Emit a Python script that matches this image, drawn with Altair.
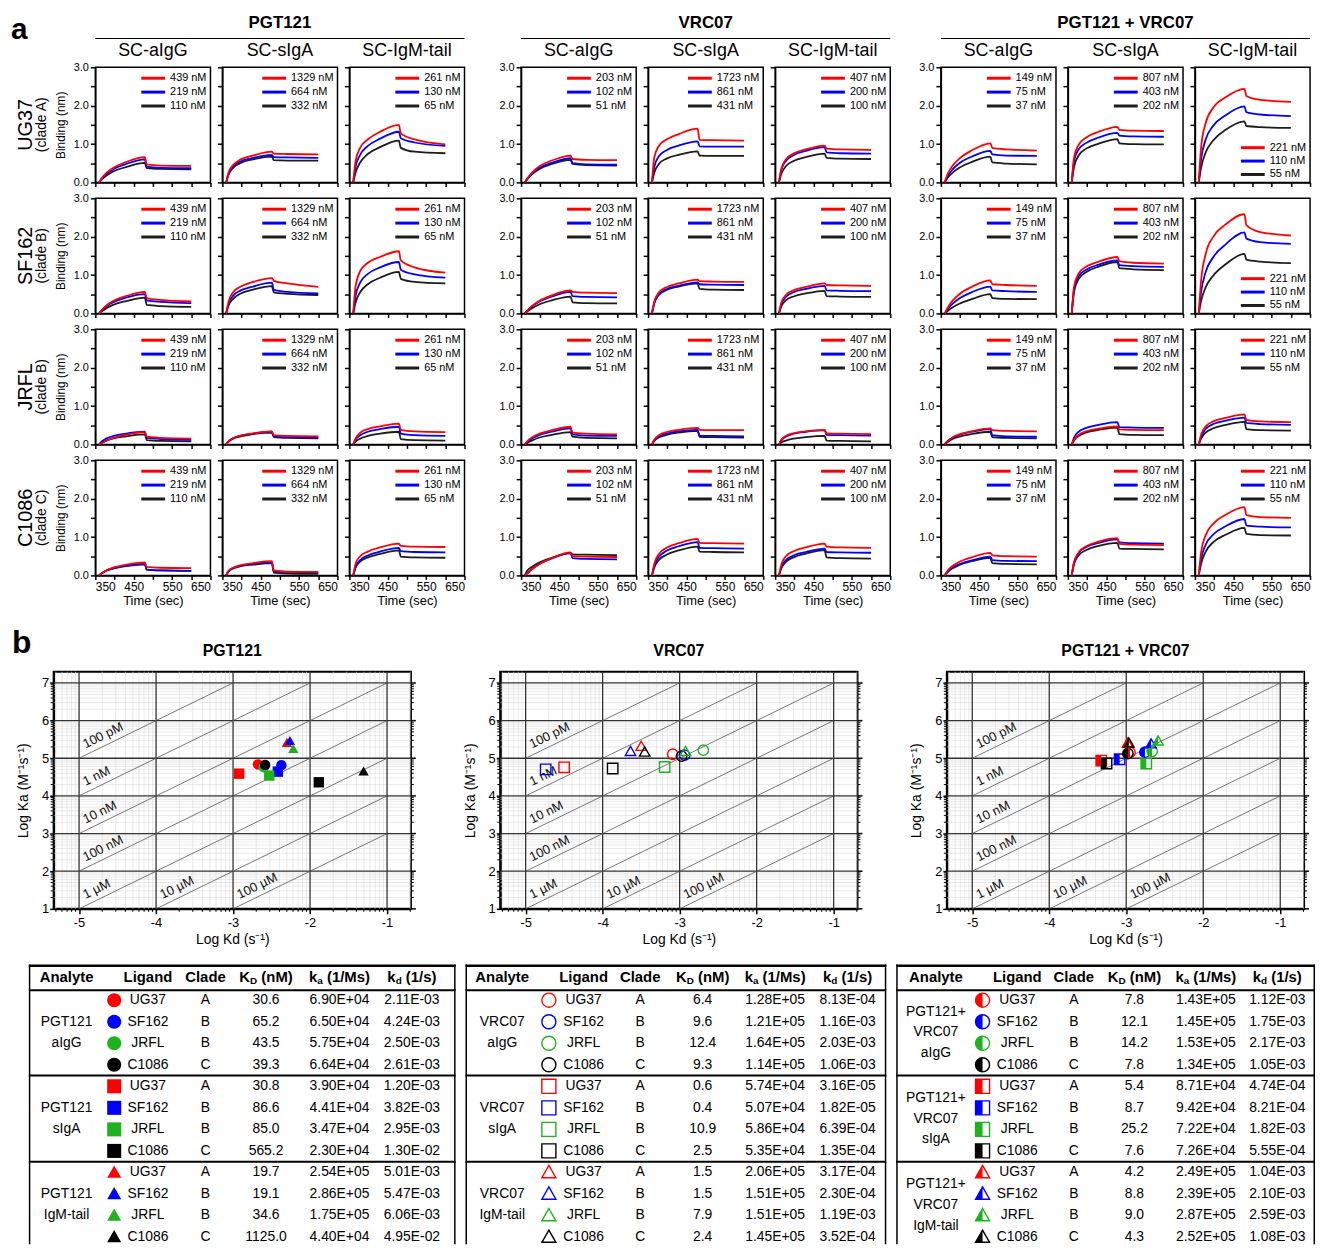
import math
import altair as alt
import pandas as pd

FONT = "Liberation Sans, Arial, Helvetica, sans-serif"
NARROW = "Liberation Sans Narrow, Arial Narrow, Liberation Sans, Arial, sans-serif"

# ------------------------------------------------------------------ panel a
GROUPS = ["PGT121", "VRC07", "PGT121 + VRC07"]
FORMATS = ["SC-aIgG", "SC-sIgA", "SC-IgM-tail"]
ANTIGENS = ["UG37", "SF162", "JRFL", "C1086"]
CLADE_TEXT = ["(clade A)", "(clade B)", "(clade B)", "(clade C)"]
SERIES = ["high", "mid", "low"]
TIME_SEC = [360, 366, 378, 398, 430, 479, 484, 520, 600]

CONC_PGT121 = [["439 nM", "219 nM", "110 nM"], ["1329 nM", "664 nM", "332 nM"], ["261 nM", "130 nM", "65 nM"]]
CONC_VRC07 = [["203 nM", "102 nM", "51 nM"], ["1723 nM", "861 nM", "431 nM"], ["407 nM", "200 nM", "100 nM"]]
CONC_COMBO = [["149 nM", "75 nM", "37 nM"], ["807 nM", "403 nM", "202 nM"], ["221 nM", "110 nM", "55 nM"]]

# binding (nm) read at TIME_SEC ; [antigen][format] -> [high conc, mid conc, low conc]
BIND_PGT121 = [
    [[[0, .10, .24, .39, .53, .66, .47, .44, .43], [0, .09, .21, .35, .48, .60, .41, .38, .37], [0, .07, .17, .29, .40, .51, .37, .35, .34]],
     [[0, .25, .45, .60, .70, .80, .75, .74, .73], [0, .22, .41, .55, .64, .72, .66, .65, .64], [0, .20, .38, .51, .60, .67, .58, .57, .57]],
     [[0, .55, .90, 1.12, 1.32, 1.50, 1.28, 1.12, .99], [0, .40, .72, .95, 1.14, 1.32, 1.15, 1.04, .95], [0, .25, .52, .74, .92, 1.09, .90, .80, .76]]],
    [[[0, .08, .20, .33, .45, .56, .40, .35, .31], [0, .07, .18, .30, .41, .50, .34, .30, .27], [0, .05, .13, .23, .32, .41, .22, .19, .17]],
     [[0, .30, .55, .70, .82, .92, .85, .78, .69], [0, .25, .46, .60, .70, .80, .62, .56, .52], [0, .20, .38, .52, .62, .71, .55, .51, .48]],
     [[0, .70, 1.10, 1.32, 1.47, 1.62, 1.38, 1.20, 1.06], [0, .45, .80, 1.03, 1.20, 1.34, 1.14, 1.02, .93], [0, .28, .55, .76, .93, 1.08, .90, .82, .78]]],
    [[[0, .03, .09, .17, .25, .32, .20, .17, .15], [0, .07, .15, .22, .28, .33, .17, .14, .12], [0, .04, .10, .16, .21, .26, .11, .09, .08]],
     [[0, .08, .16, .23, .29, .34, .24, .22, .21], [0, .08, .16, .23, .28, .33, .21, .19, .18], [0, .07, .15, .21, .27, .31, .19, .17, .16]],
     [[0, .15, .30, .40, .47, .54, .38, .34, .32], [0, .12, .24, .33, .40, .46, .28, .24, .22], [0, .07, .15, .22, .28, .33, .14, .11, .10]]],
    [[[0, .05, .13, .21, .28, .34, .22, .20, .19], [0, .05, .12, .19, .25, .30, .15, .13, .12], [0, .05, .12, .18, .24, .29, .15, .13, .12]],
     [[0, .12, .20, .27, .32, .37, .13, .10, .09], [0, .11, .19, .25, .30, .34, .11, .09, .08], [0, .10, .18, .24, .28, .32, .07, .05, .04]],
     [[0, .30, .50, .62, .73, .83, .77, .75, .74], [0, .22, .40, .52, .62, .72, .63, .61, .60], [0, .20, .36, .47, .56, .65, .49, .47, .46]]],
]
BIND_VRC07 = [
    [[[0, .10, .25, .42, .57, .70, .61, .59, .58], [0, .09, .23, .38, .51, .63, .50, .47, .46], [0, .08, .21, .35, .48, .59, .48, .45, .44]],
     [[0, .65, .95, 1.12, 1.26, 1.40, 1.11, 1.10, 1.09], [0, .40, .68, .84, .96, 1.07, .94, .93, .93], [0, .25, .48, .62, .72, .81, .70, .69, .69]],
     [[0, .35, .60, .75, .86, .96, .88, .86, .85], [0, .32, .56, .71, .82, .92, .78, .76, .75], [0, .22, .42, .56, .66, .75, .64, .62, .61]]],
    [[[0, .07, .19, .33, .47, .60, .56, .54, .53], [0, .07, .18, .31, .44, .56, .45, .43, .42], [0, .05, .13, .24, .34, .44, .29, .27, .26]],
     [[0, .30, .55, .68, .78, .88, .84, .83, .82], [0, .28, .50, .63, .72, .81, .76, .75, .74], [0, .26, .48, .61, .70, .78, .64, .62, .61]],
     [[0, .28, .48, .60, .69, .78, .74, .73, .72], [0, .24, .43, .55, .64, .72, .60, .59, .58], [0, .18, .34, .44, .52, .59, .45, .44, .43]]],
    [[[0, .08, .18, .28, .37, .46, .31, .28, .26], [0, .06, .15, .25, .33, .42, .26, .23, .22], [0, .04, .10, .18, .25, .32, .20, .17, .16]],
     [[0, .12, .24, .32, .38, .43, .38, .37, .37], [0, .10, .20, .28, .34, .38, .23, .22, .21], [0, .09, .18, .25, .31, .35, .20, .19, .18]],
     [[0, .12, .22, .29, .34, .38, .29, .28, .27], [0, .10, .20, .28, .33, .37, .25, .24, .23], [0, .05, .10, .15, .19, .22, .10, .09, .08]]],
    [[[0, .05, .16, .30, .45, .60, .50, .49, .48], [0, .05, .16, .30, .44, .58, .45, .43, .42], [0, .12, .22, .34, .46, .58, .55, .54, .53]],
     [[0, .30, .56, .72, .84, .95, .85, .84, .83], [0, .25, .48, .64, .76, .87, .72, .71, .70], [0, .20, .40, .54, .65, .75, .62, .61, .60]],
     [[0, .28, .50, .63, .73, .83, .75, .73, .72], [0, .22, .40, .52, .61, .70, .61, .60, .59], [0, .18, .35, .47, .57, .66, .47, .45, .44]]],
]
BIND_COMBO = [
    [[[0, .18, .40, .62, .83, 1.02, .90, .86, .83], [0, .13, .31, .50, .67, .82, .73, .70, .69], [0, .10, .23, .38, .53, .67, .52, .49, .47]],
     [[0, .65, .98, 1.17, 1.32, 1.45, 1.37, 1.35, 1.34], [0, .55, .86, 1.03, 1.17, 1.29, 1.22, 1.20, 1.19], [0, .40, .70, .88, 1.01, 1.13, 1.02, 1.00, .99]],
     [[0, .90, 1.55, 1.95, 2.22, 2.44, 2.25, 2.15, 2.10], [0, .60, 1.12, 1.48, 1.75, 1.98, 1.83, 1.77, 1.73], [0, .38, .78, 1.10, 1.37, 1.59, 1.47, 1.44, 1.42]]],
    [[[0, .12, .30, .50, .69, .86, .76, .74, .72], [0, .09, .23, .39, .55, .70, .60, .58, .56], [0, .05, .14, .25, .37, .50, .40, .38, .37]],
     [[0, .70, 1.04, 1.22, 1.35, 1.47, 1.36, 1.32, 1.30], [0, .62, .97, 1.14, 1.27, 1.38, 1.26, 1.23, 1.21], [0, .56, .90, 1.08, 1.22, 1.34, 1.18, 1.15, 1.13]],
     [[0, .85, 1.55, 2.00, 2.32, 2.59, 2.30, 2.12, 2.03], [0, .55, 1.08, 1.47, 1.80, 2.11, 1.95, 1.86, 1.81], [0, .32, .68, .99, 1.28, 1.55, 1.40, 1.35, 1.31]]],
    [[[0, .07, .17, .26, .34, .42, .37, .35, .34], [0, .07, .16, .25, .33, .40, .24, .21, .20], [0, .05, .13, .20, .27, .33, .19, .17, .16]],
     [[0, .12, .25, .34, .41, .47, .39, .38, .37], [0, .18, .33, .43, .51, .58, .45, .44, .43], [0, .10, .22, .31, .38, .44, .27, .25, .24]],
     [[0, .25, .47, .60, .69, .78, .64, .60, .58], [0, .20, .40, .53, .62, .70, .56, .53, .51], [0, .15, .31, .42, .51, .59, .40, .37, .36]]],
    [[[0, .10, .23, .35, .47, .59, .52, .50, .49], [0, .08, .19, .29, .39, .49, .40, .38, .37], [0, .07, .17, .27, .37, .46, .32, .30, .29]],
     [[0, .35, .60, .76, .88, .97, .82, .80, .79], [0, .33, .58, .74, .85, .94, .86, .84, .83], [0, .30, .52, .66, .77, .85, .70, .69, .68]],
     [[0, .60, 1.05, 1.35, 1.58, 1.78, 1.57, 1.52, 1.50], [0, .42, .80, 1.07, 1.28, 1.47, 1.30, 1.27, 1.25], [0, .30, .62, .87, 1.06, 1.24, 1.08, 1.05, 1.04]]],
]
BIND = [BIND_PGT121, BIND_VRC07, BIND_COMBO]
CONC = [CONC_PGT121, CONC_VRC07, CONC_COMBO]
LEGEND_AT_BOTTOM = [(2, 0, 2), (2, 1, 2)]  # (group, antigen, format)

# ------------------------------------------------------------------ panel b / tables
LIGANDS = ["UG37", "SF162", "JRFL", "C1086"]
CLADES = ["A", "B", "B", "C"]
FMT_SHORT = ["aIgG", "sIgA", "IgM-tail"]
ANALYTE_PGT121 = [["PGT121", "aIgG"], ["PGT121", "sIgA"], ["PGT121", "IgM-tail"]]
ANALYTE_VRC07 = [["VRC07", "aIgG"], ["VRC07", "sIgA"], ["VRC07", "IgM-tail"]]
ANALYTE_COMBO = [["PGT121+", "VRC07", "aIgG"], ["PGT121+", "VRC07", "sIgA"], ["PGT121+", "VRC07", "IgM-tail"]]

KDNM_PGT121 = [["30.6", "65.2", "43.5", "39.3"], ["30.8", "86.6", "85.0", "565.2"], ["19.7", "19.1", "34.6", "1125.0"]]
KA_PGT121 = [["6.90E+04", "6.50E+04", "5.75E+04", "6.64E+04"], ["3.90E+04", "4.41E+04", "3.47E+04", "2.30E+04"], ["2.54E+05", "2.86E+05", "1.75E+05", "4.40E+04"]]
KD_PGT121 = [["2.11E-03", "4.24E-03", "2.50E-03", "2.61E-03"], ["1.20E-03", "3.82E-03", "2.95E-03", "1.30E-02"], ["5.01E-03", "5.47E-03", "6.06E-03", "4.95E-02"]]

KDNM_VRC07 = [["6.4", "9.6", "12.4", "9.3"], ["0.6", "0.4", "10.9", "2.5"], ["1.5", "1.5", "7.9", "2.4"]]
KA_VRC07 = [["1.28E+05", "1.21E+05", "1.64E+05", "1.14E+05"], ["5.74E+04", "5.07E+04", "5.86E+04", "5.35E+04"], ["2.06E+05", "1.51E+05", "1.51E+05", "1.45E+05"]]
KD_VRC07 = [["8.13E-04", "1.16E-03", "2.03E-03", "1.06E-03"], ["3.16E-05", "1.82E-05", "6.39E-04", "1.35E-04"], ["3.17E-04", "2.30E-04", "1.19E-03", "3.52E-04"]]

KDNM_COMBO = [["7.8", "12.1", "14.2", "7.8"], ["5.4", "8.7", "25.2", "7.6"], ["4.2", "8.8", "9.0", "4.3"]]
KA_COMBO = [["1.43E+05", "1.45E+05", "1.53E+05", "1.34E+05"], ["8.71E+04", "9.42E+04", "7.22E+04", "7.26E+04"], ["2.49E+05", "2.39E+05", "2.87E+05", "2.52E+05"]]
KD_COMBO = [["1.12E-03", "1.75E-03", "2.17E-03", "1.05E-03"], ["4.74E-04", "8.21E-04", "1.82E-03", "5.55E-04"], ["1.04E-03", "2.10E-03", "2.59E-03", "1.08E-03"]]

ISO_LABELS = ["100 pM", "1 nM", "10 nM", "100 nM", "1 \u00b5M", "10 \u00b5M", "100 \u00b5M"]
ISO_LOG_M = [-10, -9, -8, -7, -6, -5, -4]

# ------------------------------------------------------------------ styling
LINE_COLORS = ["#ff0000", "#0000ff", "#1c1c1c"]
LIG_COLORS = ["#ff0000", "#0000ff", "#1fb21f", "#000000"]
P_FULL = ["M-1,0A1,1,0,1,1,1,0A1,1,0,1,1,-1,0Z", "M-1,-1L1,-1L1,1L-1,1Z", "M0,-1L1,0.75L-1,0.75Z"]
P_HALF = ["M0,-1A1,1,0,0,0,0,1Z", "M-1,-1L0,-1L0,1L-1,1Z", "M0,-1L0,0.75L-1,0.75Z"]
DUMMY = pd.DataFrame({"d": [0]})

REG_W = {" ": .278, "n": .556, "M": .833}
BOLD_W = {"K": .722, "k": .556, "D": .722, "a": .556, "d": .611, "(": .333, ")": .333,
          "n": .611, "M": .833, "1": .556, "/": .278, "s": .556, " ": .278}


def reg_width(s, fs):
    return sum(REG_W.get(ch, .556) for ch in s) * fs


def bold_width(s, fs):
    return sum(BOLD_W.get(ch, .6) for ch in s) * fs


def txt(s, x, y, size, weight="normal", font=FONT, align="center", baseline="middle", angle=0, dy=0,
        line_height=0):
    kw = dict(align=align, baseline=baseline, fontSize=size, fontWeight=weight, font=font, color="black")
    if angle:
        kw["angle"] = angle
    if dy:
        kw["dy"] = dy
    if line_height:
        kw["lineBreak"] = "\n"
        kw["lineHeight"] = line_height
    return alt.Chart(DUMMY).mark_text(**kw).encode(x=alt.value(x), y=alt.value(y), text=alt.value(s))


def hrule(x1, x2, y, width, color="black"):
    return alt.Chart(DUMMY).mark_rule(color=color, strokeWidth=width).encode(
        x=alt.value(x1), x2=alt.value(x2), y=alt.value(y))


def vrule(x, y1, y2, width, color="black"):
    return alt.Chart(DUMMY).mark_rule(color=color, strokeWidth=width).encode(
        x=alt.value(x), y=alt.value(y1), y2=alt.value(y2))


def spacer():
    return alt.Chart(DUMMY).mark_rule(strokeWidth=0, opacity=0).encode(
        x=alt.value(0), y=alt.value(0), y2=alt.value(1)).properties(width=1, height=1)


# ------------------------------------------------------------------ panel a charts
W = H = 116
PITCH = W + 12
SCOL = alt.Scale(domain=SERIES, range=LINE_COLORS)


def small_chart(g, r, c):
    curves = BIND[g][r][c]
    labels = CONC[g][c]
    df = pd.DataFrame([{"t": t, "v": v, "s": SERIES[k]}
                       for k in [2, 1, 0] for t, v in zip(TIME_SEC, curves[k])])
    bottom = r == 3
    first = c == 0
    xkw = dict(values=[350, 400, 450, 500, 550, 600, 650], labels=bottom,
               labelExpr="datum.value % 100 == 50 ? '' + datum.value : ''",
               tickSize=4, tickWidth=1.5, domainWidth=1.5, labelFont=NARROW, labelFontSize=12,
               labelPadding=2, titleFontSize=13, titlePadding=2, titleFontWeight="normal", grid=False)
    xkw["title"] = "Time (sec)" if bottom else None
    ykw = dict(values=[0, 0.5, 1, 1.5, 2, 2.5, 3], labels=first,
               labelExpr="datum.value % 1 == 0 ? format(datum.value, '.1f') : ''",
               tickSize=5, tickWidth=1.5, domainWidth=1.5, labelFontSize=11, labelPadding=2,
               titleFont=NARROW, titleFontSize=12, titlePadding=6, titleFontWeight="normal", grid=False)
    ykw["title"] = "Binding (nm)" if (first and g == 0) else None
    ex = alt.X("t:Q", scale=alt.Scale(domain=[350, 650], nice=False, zero=False), axis=alt.Axis(**xkw))
    ey = alt.Y("v:Q", scale=alt.Scale(domain=[0, 3], nice=False), axis=alt.Axis(**ykw))
    col = alt.Color("s:N", scale=SCOL, legend=None)

    at_bottom = (g, r, c) in LEGEND_AT_BOTTOM
    ys = [81, 94.5, 108] if at_bottom else [11, 25, 39]
    tx = W - 4 - max(reg_width(s, 11) for s in labels)
    leg = pd.DataFrame({"v": [3 * (1 - y / H) for y in ys], "s": SERIES})

    layers = [
        alt.Chart(df).mark_line(strokeWidth=1.8, interpolate="monotone").encode(x=ex, y=ey, color=col),
        alt.Chart(leg).mark_rule(strokeWidth=3).encode(
            x=alt.value(tx - 29), x2=alt.value(tx - 5), y=ey, color=col),
        txt("\n".join(labels), tx, ys[0] - 6, 11, align="left", baseline="top",
            line_height=ys[1] - ys[0]),
    ]
    if g == 0 and c == 0:
        layers.append(txt(ANTIGENS[r], -70, H / 2, 20, font=NARROW, angle=270))
        layers.append(txt(CLADE_TEXT[r], -54, H / 2, 14, font=NARROW, angle=270))

    return alt.layer(*layers).properties(
        width=W, height=H, view=alt.ViewBackground(stroke="black", strokeWidth=1.5))


def group_header(g):
    span = 2 * PITCH + W
    L = [txt(GROUPS[g], span / 2, 10, 17, weight="bold"), hrule(0, span, 26, 1.2)]
    for c in range(3):
        L.append(txt(FORMATS[c], W / 2 + PITCH * c, 39, 18))
    if g == 0:
        L.append(txt("a", -85, 17, 30, weight="bold", align="left"))
    return alt.layer(*L).properties(width=span, height=48)


def group_block(g):
    charts = [small_chart(g, r, c) for r in range(4) for c in range(3)]
    grid = alt.concat(*charts, columns=3, spacing={"row": 16, "column": 12}, bounds="flush")
    return alt.vconcat(group_header(g), grid, spacing=0)


panel_a = alt.hconcat(
    spacer(),
    alt.hconcat(alt.hconcat(group_block(0), group_block(1), spacing=31), group_block(2), spacing=25),
    spacing=0)

# ------------------------------------------------------------------ panel b charts
SW, SH = 360, 239
XSCALE = alt.Scale(domain=[-5.33, -0.69], nice=False, zero=False)
YSCALE = alt.Scale(domain=[1, 7.3], nice=False, zero=False)
XAX = alt.Axis(values=[-5, -4, -3, -2, -1], labelExpr="'' + datum.value", title="Log Kd (s\u207b\u00b9)",
               grid=False, tickSize=5, tickWidth=1.5, domainWidth=2, labelFontSize=13, labelPadding=3,
               titleFontSize=14, titlePadding=3, titleFontWeight="normal")
YAX = alt.Axis(values=[1, 2, 3, 4, 5, 6, 7], labelExpr="'' + datum.value", title="Log Ka (M\u207b\u00b9s\u207b\u00b9)",
               grid=False, tickSize=4, tickWidth=1.5, domainWidth=2, labelFontSize=13, labelPadding=1,
               titleFontSize=14, titlePadding=11, titleFontWeight="normal")
MINOR_X = [d + math.log10(k) for d in range(-6, 0) for k in range(2, 10) if -5.33 < d + math.log10(k) < -0.69]
MINOR_Y = [d + math.log10(k) for d in range(1, 8) for k in range(2, 10) if 1 < d + math.log10(k) < 7.3]
CSCALE = alt.Scale(domain=LIGANDS, range=LIG_COLORS)


def ex():
    return alt.X("lkd:Q", scale=XSCALE, axis=XAX)


def ey():
    return alt.Y("lka:Q", scale=YSCALE, axis=YAX)


def points_df(ka, kd):
    return pd.DataFrame([{"lig": LIGANDS[l], "fmt": FMT_SHORT[f], "ka": float(ka[f][l]), "kd": float(kd[f][l])}
                         for f in range(3) for l in range(4)])


def marker_layers(df, style, size, xenc, yenc, transform=True):
    base = alt.Chart(df)
    if transform:
        base = base.transform_calculate(lkd="log(datum.kd) / LN10", lka="log(datum.ka) / LN10")
    col = alt.Color("lig:N", scale=CSCALE, legend=None)
    full = alt.Shape("fmt:N", scale=alt.Scale(domain=FMT_SHORT, range=P_FULL), legend=None)
    half = alt.Shape("fmt:N", scale=alt.Scale(domain=FMT_SHORT, range=P_HALF), legend=None)
    if style == "filled":
        return [base.mark_point(filled=True, opacity=1, size=size).encode(x=xenc, y=yenc, color=col, shape=full)]
    if style == "open":
        return [base.mark_point(filled=False, opacity=1, size=size, strokeWidth=1.4).encode(
            x=xenc, y=yenc, color=col, shape=full)]
    return [base.mark_point(filled=False, opacity=1, size=size, strokeWidth=1.4).encode(
                x=xenc, y=yenc, color=col, shape=full),
            base.mark_point(filled=True, opacity=1, size=size, strokeWidth=0).encode(
                x=xenc, y=yenc, color=col, shape=half)]


def scatter(title, ka, kd, style, with_letter):
    iso = []
    for lab, e in zip(ISO_LABELS, ISO_LOG_M):
        x1, x2 = max(-5, 1 + e), min(-1, 7 + e)
        iso.append({"lkd": x1, "lka": x1 - e, "lkd2": x2, "lka2": x2 - e, "label": lab,
                    "tx": x1 + 0.1, "ty": x1 + 0.1 - e + 0.09})
    iso = pd.DataFrame(iso)
    layers = [
        alt.Chart(pd.DataFrame({"lkd": MINOR_X})).mark_rule(color="#dadada", strokeWidth=0.6).encode(x=ex()),
        alt.Chart(pd.DataFrame({"lka": MINOR_Y})).mark_rule(color="#dadada", strokeWidth=0.6).encode(y=ey()),
        alt.Chart(pd.DataFrame({"lkd": [-5, -4, -3, -2, -1]})).mark_rule(color="#333333", strokeWidth=1.3).encode(x=ex()),
        alt.Chart(pd.DataFrame({"lka": [2, 3, 4, 5, 6, 7]})).mark_rule(color="#333333", strokeWidth=1.3).encode(y=ey()),
        alt.Chart(iso).mark_rule(color="#555555", strokeWidth=0.8).encode(x=ex(), y=ey(), x2="lkd2:Q", y2="lka2:Q"),
        alt.Chart(iso).mark_text(angle=334, align="left", baseline="bottom", fontSize=13, font=FONT,
                                 color="#111111").encode(
            x=alt.X("tx:Q", scale=XSCALE, axis=XAX), y=alt.Y("ty:Q", scale=YSCALE, axis=YAX), text="label:N"),
        alt.Chart(pd.DataFrame({"lkd": MINOR_X})).mark_rule(color="black", strokeWidth=1).encode(
            x=ex(), y=alt.value(SH), y2=alt.value(SH + 3)),
        alt.Chart(pd.DataFrame({"lka": MINOR_Y})).mark_rule(color="black", strokeWidth=1).encode(
            y=ey(), x=alt.value(0), x2=alt.value(-3)),
        alt.Chart(pd.DataFrame({"lka": MINOR_Y})).mark_rule(color="black", strokeWidth=1).encode(
            y=ey(), x=alt.value(SW), x2=alt.value(SW + 3)),
        alt.Chart(pd.DataFrame({"lka": [1, 2, 3, 4, 5, 6, 7]})).mark_rule(color="black", strokeWidth=1.5).encode(
            y=ey(), x=alt.value(SW), x2=alt.value(SW + 5)),
    ]
    layers += marker_layers(points_df(ka, kd), style, 110, ex(), ey())
    layers.append(txt(title, SW / 2, -21, 16, weight="bold"))
    if with_letter:
        layers.append(txt("b", -42, -29, 32, weight="bold", align="left"))
    ch = alt.layer(*layers).properties(
        width=SW, height=SH, view=alt.ViewBackground(stroke="black", strokeWidth=2))
    if style == "half":
        ch = ch.resolve_scale(shape="independent")
    return ch


panel_b = alt.hconcat(
    spacer(),
    alt.hconcat(
        scatter("PGT121", KA_PGT121, KD_PGT121, "filled", True),
        scatter("VRC07", KA_VRC07, KD_VRC07, "open", False),
        scatter("PGT121 + VRC07", KA_COMBO, KD_COMBO, "half", False),
        spacing=44),
    spacing=0)

# ------------------------------------------------------------------ tables
TH = 282
ROW0, ROWP = 36, 21.7
COLX = [[38, 86, 120, 178, 239, 313, 386], [37, 84, 119, 176, 239, 312, 385], [40, 87, 122, 179, 240, 312, 384]]
TW = [430, 424, 422]


def sub_header(cx, main, sub, rest, fs=15, sfs=10):
    total = bold_width(main, fs) + bold_width(sub, sfs) + bold_width(" ", fs) + bold_width(rest, fs)
    x0 = cx - total / 2
    x1 = x0 + bold_width(main, fs)
    x2 = x1 + bold_width(sub, sfs) + bold_width(" ", fs)
    return [txt(main, x0, 13, fs, weight="bold", align="left"),
            txt(sub, x1, 13, sfs, weight="bold", align="left", dy=4),
            txt(rest, x2, 13, fs, weight="bold", align="left")]


def table(i, analyte, kdnm, ka, kd, style):
    w = TW[i]
    cx = COLX[i]
    body = []
    for f in range(3):
        for l in range(4):
            for ci, val in [(2, LIGANDS[l]), (3, CLADES[l]), (4, kdnm[f][l]), (5, ka[f][l]), (6, kd[f][l])]:
                body.append({"row": 4 * f + l, "ci": ci, "label": val})
        lines = analyte[f]
        n = len(lines)
        step = 1.0 if n == 2 else 0.97
        for j, s in enumerate(lines):
            body.append({"row": 4 * f + 1.5 + (j - (n - 1) / 2) * step, "ci": 0, "label": s})
    marks = pd.DataFrame([{"row": 4 * f + l, "ci": 1, "lig": LIGANDS[l], "fmt": FMT_SHORT[f]}
                          for f in range(3) for l in range(4)])
    yenc = alt.Y("row:Q", scale=alt.Scale(domain=[-ROW0 / ROWP, (TH - ROW0) / ROWP], reverse=True, nice=False,
                                          zero=False), axis=None)
    xenc = alt.X("ci:Q", scale=alt.Scale(domain=list(range(7)), range=cx, nice=False, zero=False), axis=None)
    layers = [
        hrule(0, w, 1.25, 2.5),
        vrule(0.75, 0, TH, 1.5),
        vrule(w - 0.75, 0, TH, 1.5),
        hrule(0, w, 26, 2),
        alt.Chart(pd.DataFrame({"row": [3.5, 7.5]})).mark_rule(color="black", strokeWidth=2).encode(
            y=yenc, x=alt.value(0), x2=alt.value(w)),
        txt("Analyte", cx[0], 13, 15, weight="bold"),
        txt("Ligand", cx[2], 13, 15, weight="bold"),
        txt("Clade", cx[3], 13, 15, weight="bold"),
    ]
    layers += sub_header(cx[4], "K", "D", "(nM)")
    layers += sub_header(cx[5], "k", "a", "(1/Ms)")
    layers += sub_header(cx[6], "k", "d", "(1/s)")
    layers.append(alt.Chart(pd.DataFrame(body)).mark_text(fontSize=14, font=FONT, color="black").encode(
        x=xenc, y=yenc, text="label:N"))
    layers += marker_layers(marks, style, 200, xenc, yenc, transform=False)
    ch = alt.layer(*layers).properties(width=w, height=TH)
    if style == "half":
        ch = ch.resolve_scale(shape="independent")
    return ch


tables = alt.hconcat(
    spacer(),
    alt.hconcat(
        table(0, ANALYTE_PGT121, KDNM_PGT121, KA_PGT121, KD_PGT121, "filled"),
        table(1, ANALYTE_VRC07, KDNM_VRC07, KA_VRC07, KD_VRC07, "open"),
        table(2, ANALYTE_COMBO, KDNM_COMBO, KA_COMBO, KD_COMBO, "half"),
        spacing=6),
    spacing=16)

upper = alt.vconcat(panel_a, panel_b, spacing=18).resolve_scale(color="independent")
chart = alt.vconcat(upper, tables, spacing=16).resolve_scale(color="independent").properties(
    padding={"left": 2, "top": 0, "right": 0, "bottom": 0}, background="white"
).configure_view(stroke=None).configure_axis(
    labelColor="black", titleColor="black", domainColor="black", tickColor="black",
    labelFont=FONT, titleFont=FONT
).configure_title(font=FONT, color="black")

chart.save("out.html", embed_options={"renderer": "svg", "actions": False})
